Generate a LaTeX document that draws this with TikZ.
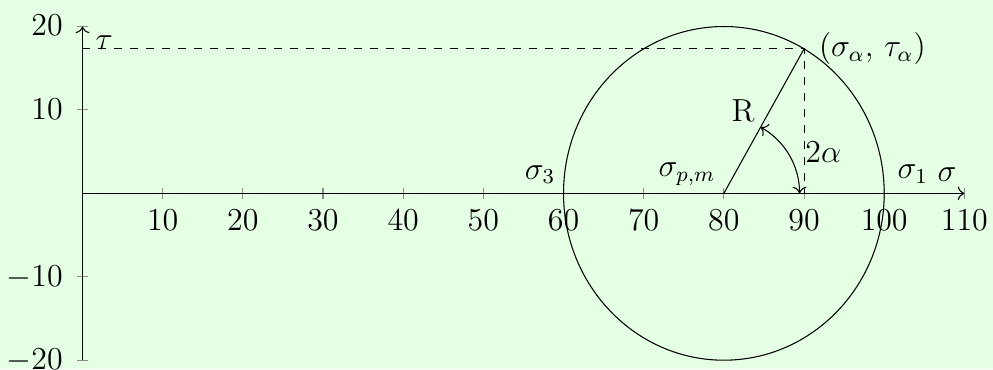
\documentclass[tikz,border=0pt]{standalone}
\usepackage{amsmath}
\usetikzlibrary{arrows.meta, calc}
\definecolor{PaleGreen}{RGB}{229, 255, 229}
\definecolor{TickGray}{RGB}{140, 140, 140}

\begin{document}
\begin{tikzpicture}[
    x=3.014pt, y=3.136pt,
    every node/.style={inner sep=0pt, font=\fontsize{12}{14}\selectfont},
    axis/.style={-{To}, thin},
    tickmark/.style={TickGray, thin},
    xlab/.style={anchor=base},
    ylab/.style={anchor=base east},
    marklab/.style={anchor=base west},
    guide/.style={dashed, thin}
]
\fill[PaleGreen] (-10.29,-21.07) rectangle (113.57,23.18);
\useasboundingbox (-10.29,-21.07) rectangle (113.57,23.18);

\coordinate (O) at (0,0);
\coordinate (xend) at (110,0);
\coordinate (ybot) at (0,-20);
\coordinate (ytop) at (0,20);
\coordinate (C) at (80,0);
\coordinate (P) at (90,17.32);
\coordinate (Pfoot) at (90,0);
\coordinate (Pleft) at (0,17.32);

% ticks
\foreach \x in {10,20,...,110} {
    \draw[tickmark] (\x,0) ++(0,-2pt) -- ++(0,4pt);
    \node[xlab] (xt\x) at (\x,-4.5) {$\x$};
}
\foreach \y in {-20,-10,10,20} {
    \draw[tickmark] (0,\y) ++(-2pt,0) -- ++(4pt,0);
    \node[ylab] (yt\y) at (-2.4,\y-1.13) {$\y$};
}

\draw[axis] (O) -- (xend);
\draw[axis] (ybot) -- (ytop);

% Mohr circle
\draw (C) circle [x radius=20, y radius=20];
\draw (C) -- (P);
\draw[guide] (Pleft) -- (P) -- (Pfoot);
\draw[{To}-{To}] ([xshift=1cm]C) arc [start angle=0, end angle=61, radius=1cm];

\node[marklab] (tau) at (1.56,17.2) {$\tau$};
\node[marklab] (sig) at (106.6,1.4) {$\sigma$};
\node[marklab] (sig1) at (101.6,1.8) {$\sigma_1$};
\node[marklab] (sig3) at (55.1,1.7) {$\sigma_3$};
\node[marklab] (sigpm) at (71.8,2.0) {$\sigma_{p,m}$};
\node[marklab] (rad) at (80.9,8.6) {R};
\node[marklab] (ang) at (90.1,3.67) {$2\alpha$};
\node[marklab] (ptlab) at (91.8,16.4) {$(\sigma_\alpha,\,\tau_\alpha)$};
\end{tikzpicture}
\end{document}
